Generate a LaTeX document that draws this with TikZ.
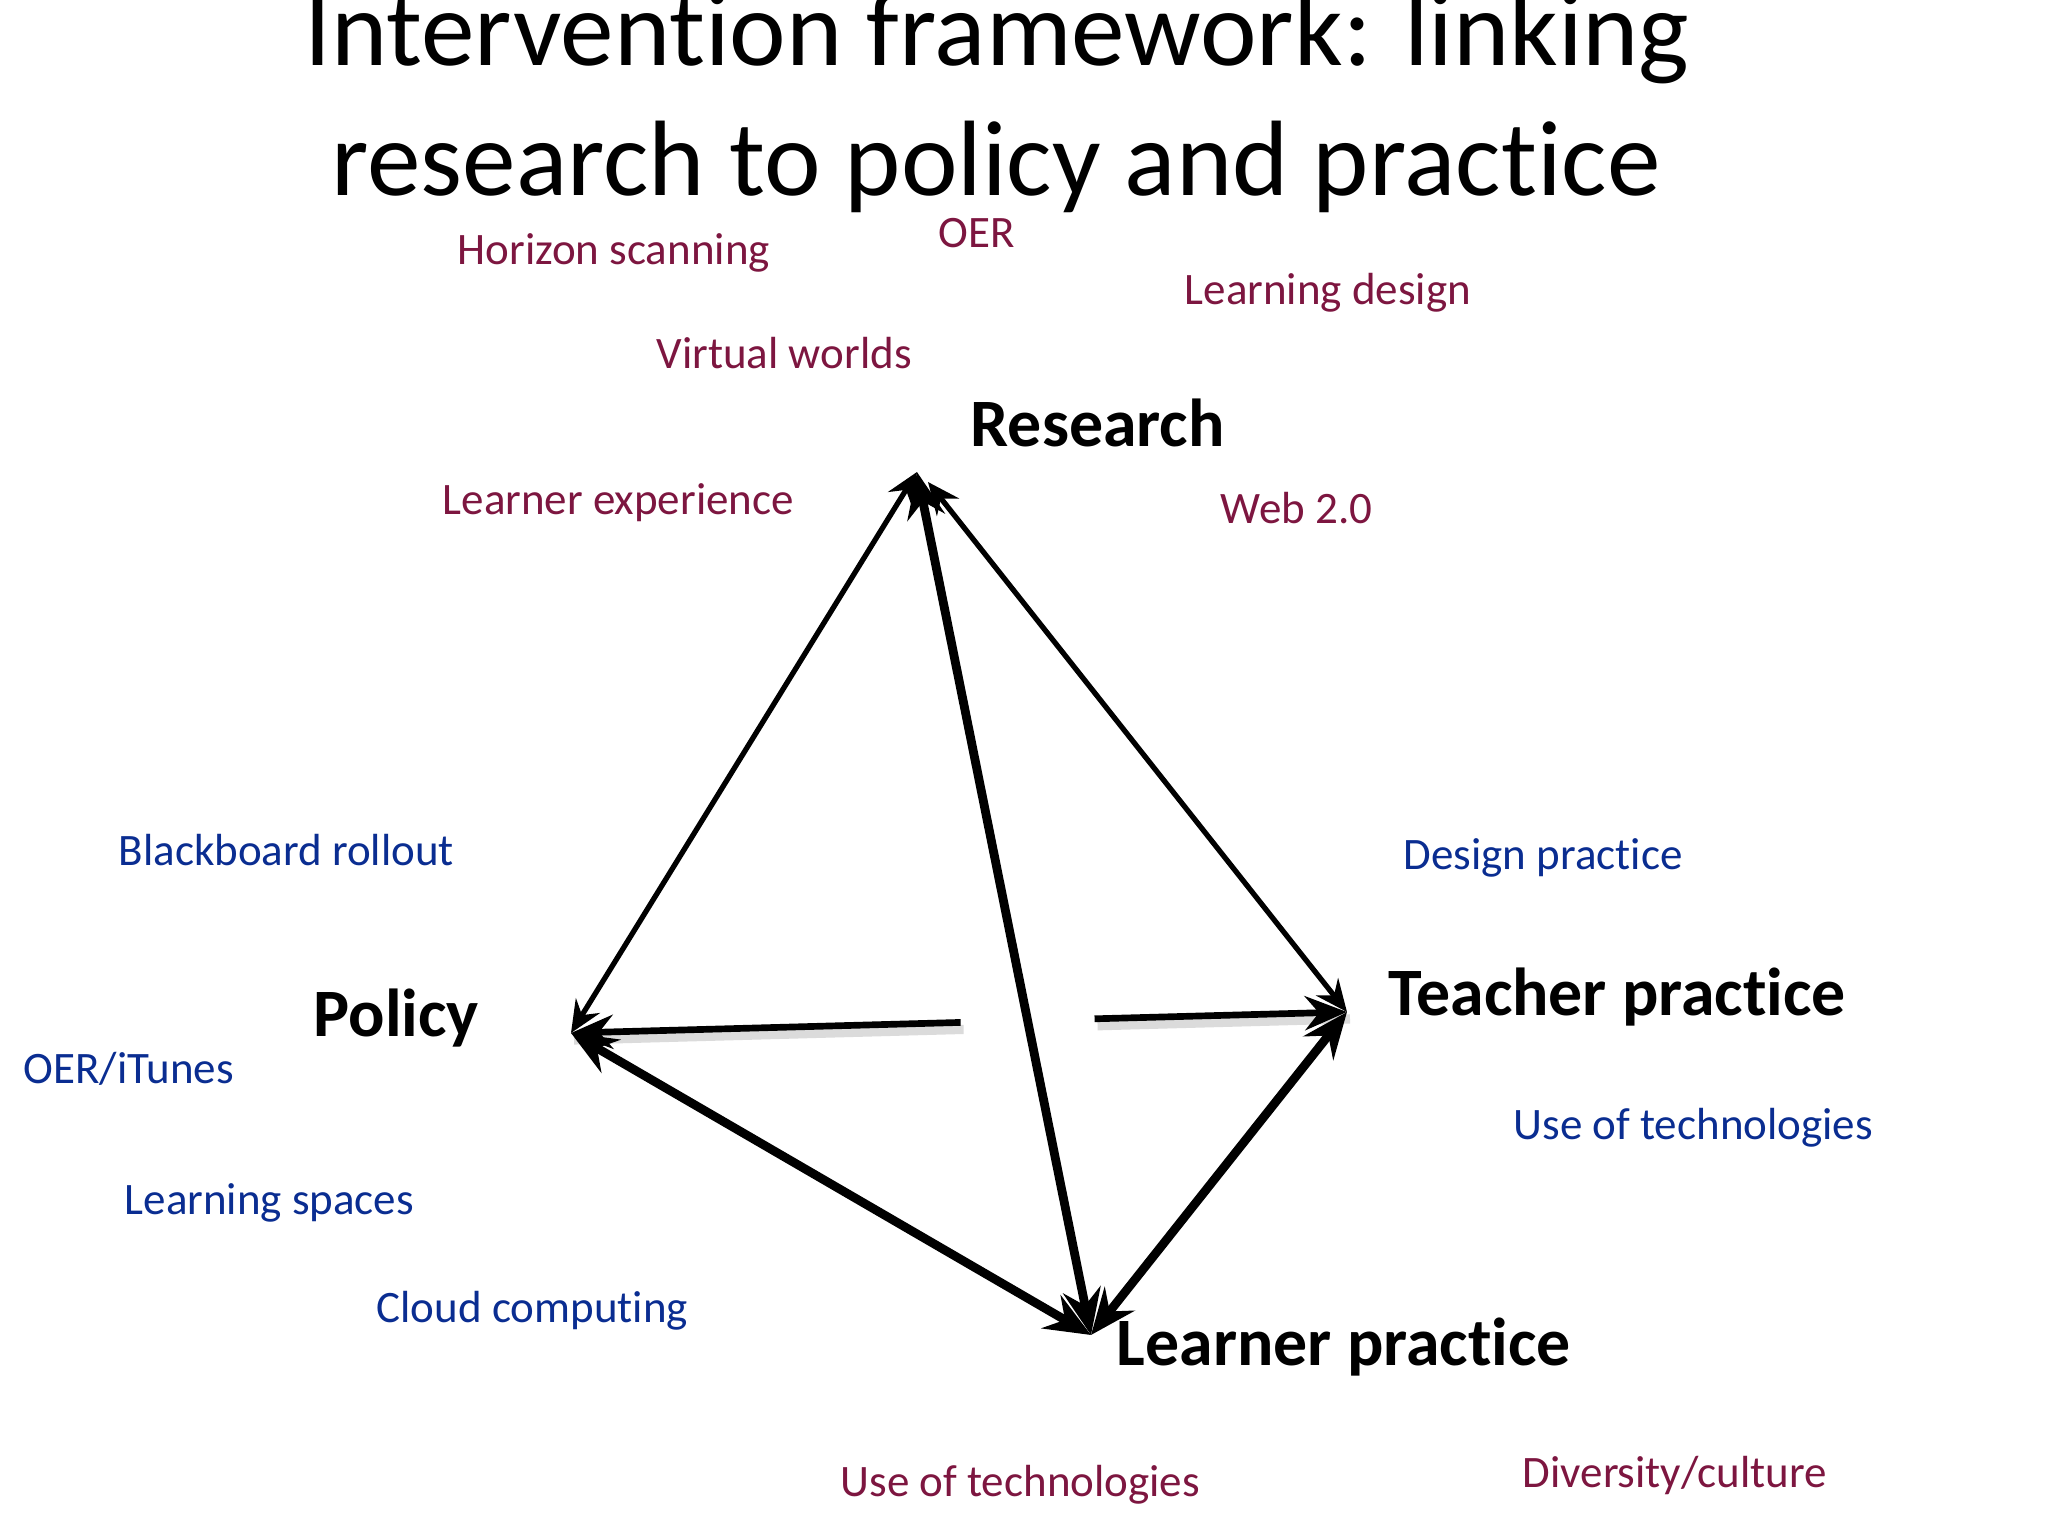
\documentclass[tikz,border=0pt]{standalone}
\usepackage{fontspec}
\setmainfont{Carlito}[RawFeature={-liga;-clig;-calt;-dlig;-rlig}]
\usepackage{tikz}
\usetikzlibrary{positioning,
        arrows.meta,
        calc}
\usepackage{xcolor}
\definecolor{slidemaroon}{RGB}{125,22,64}
\definecolor{slideblue}{RGB}{10,45,145}

\begin{document}
\begin{tikzpicture}[
        titletext/.style={anchor=base,inner sep=0pt,font=\fontsize{30.5}{37}\selectfont},
        corner/.style={anchor=base west,inner sep=0pt,font=\fontsize{19.3}{23}\selectfont\bfseries},
        redtopic/.style={anchor=base west,inner sep=0pt,text=slidemaroon,font=\fontsize{12.8}{15}\selectfont},
        bluetopic/.style={anchor=base west,inner sep=0pt,text=slideblue,font=\fontsize{12.8}{15}\selectfont},
        thinlink/.style={line width=1.5pt,{Stealth[length=3.2mm,width=2.8mm,inset=1.1mm]}-{Stealth[length=3.2mm,width=2.8mm,inset=1.1mm]}},
        thicklink/.style={line width=2.5pt,{Stealth[length=4.6mm,width=3.8mm,inset=1.6mm]}-{Stealth[length=4.6mm,width=3.8mm,inset=1.6mm]}},
        midlink/.style={line width=1.9pt,-{Stealth[length=4.2mm,width=3.4mm,inset=1.4mm]}},
        shadowed/.style={preaction={draw=black!14,line width=2.6pt,arrows=-,transform canvas={shift={(0.3mm,-0.7mm)}}}}]
            \useasboundingbox (0,0) rectangle (20.48,-15.36);
            \fill [white] (0,0) rectangle (20.48,-15.36);

            % title
            \node [titletext] (title1) at (9.97,-0.66) {Intervention framework: linking};
            \node [titletext] (title2) at (9.96,-1.96) {research to policy and practice};

            % the four corners
            \coordinate (R) at (9.17,-4.72);
            \coordinate (Rr) at (9.28,-4.82);
            \coordinate (P) at (5.71,-10.33);
            \coordinate (T) at (13.47,-10.12);
            \coordinate (L) at (10.91,-13.35);

            \node [corner] (research) at (9.70,-4.47) {Research};
            \node [corner] (policy) at (3.13,-10.37) {Policy};
            \node [corner] (teacher) at (13.88,-10.15) {Teacher practice};
            \node [corner] (learner) at (11.16,-13.65) {Learner practice};

            % research topics
            \node [redtopic] (horizon) at (4.57,-2.65) {Horizon scanning};
            \node [redtopic] (oer) at (9.38,-2.48) {OER};
            \node [redtopic] (ldesign) at (11.84,-3.05) {Learning design};
            \node [redtopic] (virtual) at (6.56,-3.69) {Virtual worlds};
            \node [redtopic] (lexp) at (4.42,-5.15) {Learner experience};
            \node [redtopic] (web) at (12.20,-5.24) {Web 2.0};

            % policy topics
            \node [bluetopic] (blackboard) at (1.18,-8.65) {Blackboard rollout};
            \node [bluetopic] (itunes) at (0.23,-10.83) {OER/iTunes};
            \node [bluetopic] (spaces) at (1.24,-12.14) {Learning spaces};
            \node [bluetopic] (cloud) at (3.76,-13.22) {Cloud computing};

            % teacher topics
            \node [bluetopic] (dpractice) at (14.03,-8.69) {Design practice};
            \node [bluetopic] (tuse) at (15.13,-11.40) {Use of technologies};

            % learner topics
            \node [redtopic] (luse) at (8.40,-14.96) {Use of technologies};
            \node [redtopic] (diversity) at (15.22,-14.87) {Diversity/culture};

            % policy -- teacher, broken where it passes behind
            \coordinate (X) at (intersection of R--L and P--T);
            \coordinate (gapP) at ($(X)!0.67cm!(P)$);
            \coordinate (gapT) at ($(X)!0.67cm!(T)$);
            \draw [midlink,shadowed] (gapP) -- (P);
            \draw [midlink,shadowed] (gapT) -- (T);

            \draw [thinlink] (R) -- (P);
            \draw [thinlink] (Rr) -- (T);
            \draw [thicklink] (R) -- (L);
            \draw [thicklink] (P) -- (L);
            \draw [thicklink] (T) -- (L);
        \end{tikzpicture}
\end{document}
